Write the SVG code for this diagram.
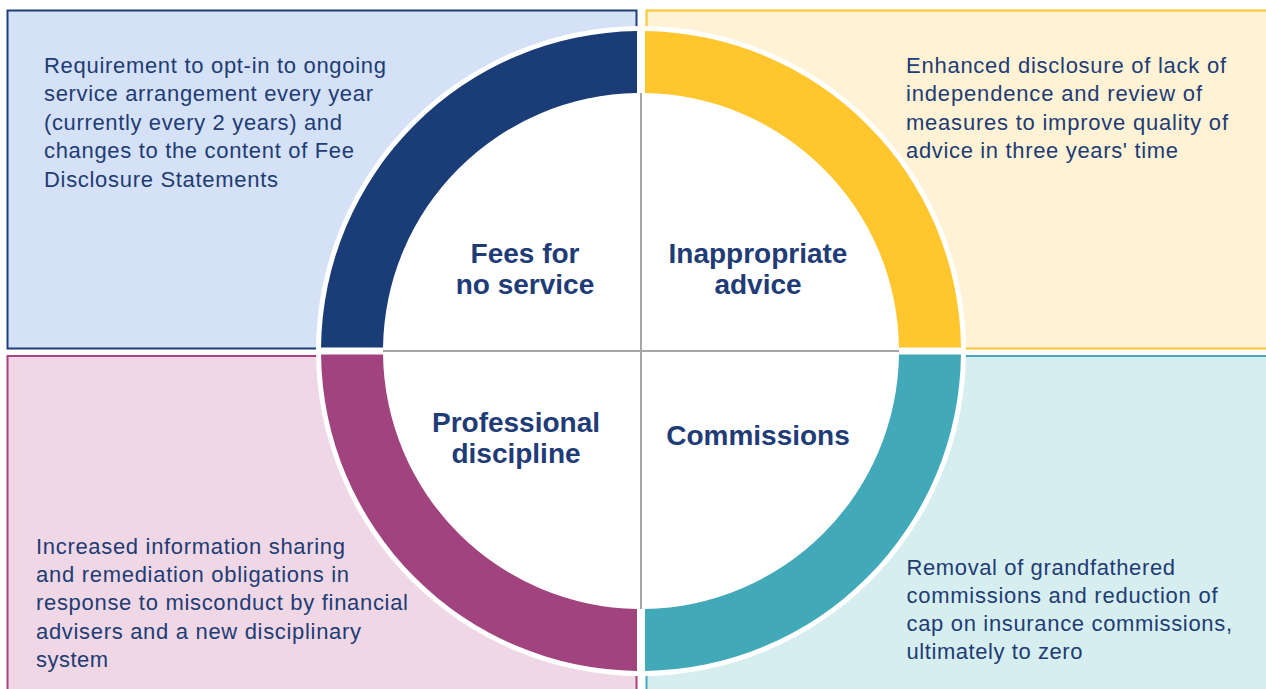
<svg xmlns="http://www.w3.org/2000/svg" width="1266" height="689" viewBox="0 0 1266 689">
  <style>
    .box { stroke-width: 2; }
    .halo { fill: #ffffff; }
    .desc { font-family: "Liberation Sans", Arial, sans-serif; font-size: 22px; fill: #213c74; }
    .title { font-family: "Liberation Sans", Arial, sans-serif; font-size: 28px; font-weight: bold; fill: #1f3c77; text-anchor: middle; }
    .divider { stroke: #a6a6a6; stroke-width: 2; fill: none; }
  </style>
  <rect x="0" y="0" width="1266" height="689" fill="#ffffff"/>

  <!-- Top-left quadrant: fees for no service -->
  <g id="fees-for-no-service">
    <rect class="box" x="7.5" y="10.5" width="629" height="338" fill="#d4e1f6" stroke="#1f3f7a"/>
    <path class="halo" d="M641 351 L316 351 A325 325 0 0 1 641 26 Z"/>
    <path fill="#1b3d77" d="M321.02 347.5 A320 320 0 0 1 637 31.03 L637 93.03 A258 258 0 0 0 383.02 347.5 Z"/>
    <text class="title" x="525" y="263">Fees for</text>
    <text class="title" x="525" y="294">no service</text>
    <text class="desc" x="44" y="72.7" textLength="342">Requirement to opt-in to ongoing</text>
    <text class="desc" x="44" y="101.1" textLength="329">service arrangement every year</text>
    <text class="desc" x="44" y="129.5" textLength="298">(currently every 2 years) and</text>
    <text class="desc" x="44" y="158" textLength="310">changes to the content of Fee</text>
    <text class="desc" x="44" y="186.6" textLength="234">Disclosure Statements</text>
  </g>

  <!-- Top-right quadrant: inappropriate advice -->
  <g id="inappropriate-advice">
    <rect class="box" x="646.5" y="10.5" width="630" height="338" fill="#fff2d5" stroke="#fec42f"/>
    <path class="halo" d="M641 351 L641 26 A325 325 0 0 1 966 351 Z"/>
    <path fill="#ffc62e" d="M645 31.03 A320 320 0 0 1 960.98 347.5 L898.98 347.5 A258 258 0 0 0 645 93.03 Z"/>
    <text class="title" x="758" y="263">Inappropriate</text>
    <text class="title" x="758" y="294">advice</text>
    <text class="desc" x="906" y="72.7" textLength="320">Enhanced disclosure of lack of</text>
    <text class="desc" x="906" y="101.1" textLength="296">independence and review of</text>
    <text class="desc" x="906" y="129.5" textLength="322">measures to improve quality of</text>
    <text class="desc" x="906" y="158" textLength="272">advice in three years' time</text>
  </g>

  <!-- Bottom-left quadrant: professional discipline -->
  <g id="professional-discipline">
    <rect class="box" x="7.5" y="356" width="629" height="340" fill="#efd7e5" stroke="#a7437f"/>
    <path class="halo" d="M641 351 L641 676 A325 325 0 0 1 316 351 Z"/>
    <path fill="#a0437e" d="M637 670.97 A320 320 0 0 1 321.02 354.5 L383.02 354.5 A258 258 0 0 0 637 608.97 Z"/>
    <text class="title" x="516" y="431.5">Professional</text>
    <text class="title" x="516" y="462.5">discipline</text>
    <text class="desc" x="36" y="554" textLength="309">Increased information sharing</text>
    <text class="desc" x="36" y="582.2" textLength="313">and remediation obligations in</text>
    <text class="desc" x="36" y="610.4" textLength="372">response to misconduct by financial</text>
    <text class="desc" x="36" y="638.6" textLength="325">advisers and a new disciplinary</text>
    <text class="desc" x="36" y="666.8" textLength="72">system</text>
  </g>

  <!-- Bottom-right quadrant: commissions -->
  <g id="commissions">
    <rect class="box" x="646.5" y="356" width="630" height="340" fill="#d7eef0" stroke="#42a9b7"/>
    <path class="halo" d="M641 351 L966 351 A325 325 0 0 1 641 676 Z"/>
    <path fill="#41a9b8" d="M960.98 354.5 A320 320 0 0 1 645 670.97 L645 608.97 A258 258 0 0 0 898.98 354.5 Z"/>
    <text class="title" x="758" y="445">Commissions</text>
    <text class="desc" x="906.5" y="575" textLength="268.5">Removal of grandfathered</text>
    <text class="desc" x="906.5" y="602.8" textLength="311">commissions and reduction of</text>
    <text class="desc" x="906.5" y="630.7" textLength="325.5">cap on insurance commissions,</text>
    <text class="desc" x="906.5" y="658.7" textLength="176">ultimately to zero</text>
  </g>

  <!-- Cross dividing the inner disc into four quarters -->
  <g id="connectors">
    <line class="divider" x1="383" y1="351" x2="899" y2="351"/>
    <line class="divider" x1="641" y1="93" x2="641" y2="609"/>
  </g>
</svg>
